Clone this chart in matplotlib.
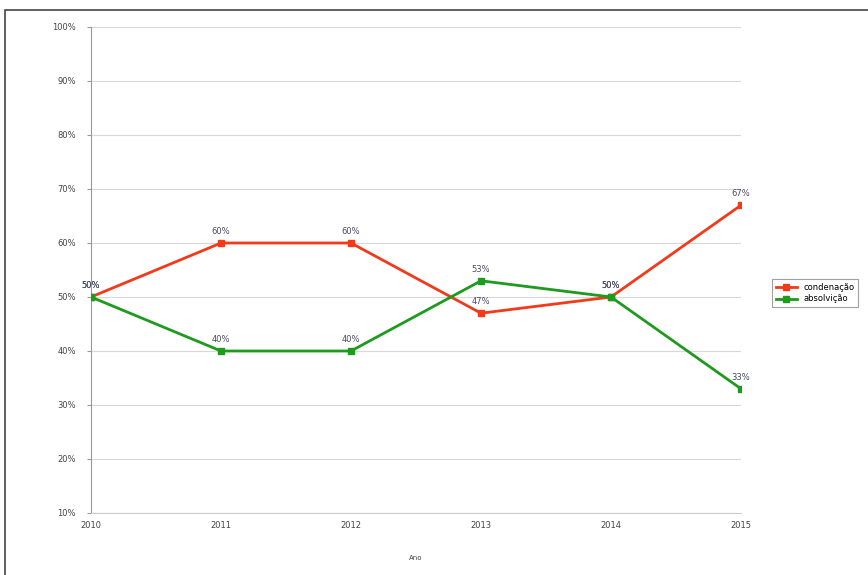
import matplotlib
matplotlib.use("Agg")
import matplotlib.pyplot as plt
from matplotlib.patches import Rectangle
from matplotlib.ticker import FuncFormatter

anos = ["2010", "2011", "2012", "2013", "2014", "2015"]
condenacao = [50, 60, 60, 47, 50, 67]
absolvicao = [50, 40, 40, 53, 50, 33]
y_ticks = [10, 20, 30, 40, 50, 60, 70, 80, 90, 100]

fig = plt.figure(figsize=(8.68, 5.75), dpi=100)
ax = fig.add_axes([91/868, 1-513/575, (741-91)/868, (513-27)/575])

x = list(range(len(anos)))
red = "#f23a1a"
green = "#1e9a1e"
ax.plot(x, condenacao, color=red, lw=2.0, marker="s", ms=4, label="condenação", zorder=3)
ax.plot(x, absolvicao, color=green, lw=2.0, marker="s", ms=4, label="absolvição", zorder=3)

lab_col = "#4a4a60"
for xi, v in zip(x, condenacao):
    ax.annotate(f"{v}%", (xi, v), xytext=(0, 5), textcoords="offset points",
                ha="center", va="bottom", fontsize=6, color=lab_col)
for xi, v in zip(x, absolvicao):
    ax.annotate(f"{v}%", (xi, v), xytext=(0, 5), textcoords="offset points",
                ha="center", va="bottom", fontsize=6, color=lab_col)

ax.set_xlim(0, len(anos) - 1)
ax.set_ylim(10, 100)
ax.set_xticks(x)
ax.set_xticklabels(anos, fontsize=6, color="#444444")
ax.set_yticks(y_ticks)
ax.yaxis.set_major_formatter(FuncFormatter(lambda v, p: f"{int(v)}%"))
ax.tick_params(axis="y", labelsize=6, length=3, color="#999999", labelcolor="#444444", pad=8)
ax.tick_params(axis="x", labelsize=6, length=0, pad=6)
ax.grid(axis="y", color="#d8d8d8", lw=0.8)
ax.set_axisbelow(True)
for s in ["top", "right"]:
    ax.spines[s].set_visible(False)
ax.spines["left"].set_color("#999999")
ax.spines["bottom"].set_color("#cccccc")
ax.set_xlabel("Ano", fontsize=5, labelpad=18, color="#444444")

leg = fig.legend(loc="upper left", bbox_to_anchor=(768/868, 1-275/575), fontsize=6,
                 frameon=True, fancybox=False, edgecolor="#888888", handlelength=2.6,
                 borderpad=0.4, labelspacing=0.35)
leg.get_frame().set_linewidth(0.8)

fig.patches.append(Rectangle((5/868, -0.01), 1.0, 1-10/575 + 0.01, transform=fig.transFigure,
                             fill=False, edgecolor="#444444", lw=1.2))

fig.savefig("out.png", dpi=100)
